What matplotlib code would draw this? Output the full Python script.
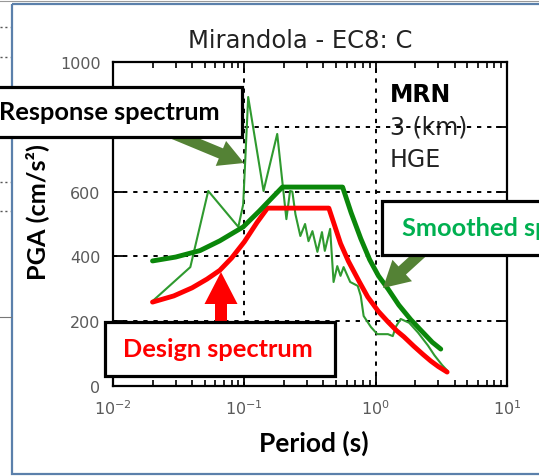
import numpy as np
import matplotlib
matplotlib.use("Agg")
import matplotlib.pyplot as plt
from matplotlib.patches import Rectangle, FancyArrow

# 数据
design_T = [0.02, 0.029, 0.04, 0.052, 0.065, 0.08, 0.1, 0.125, 0.15, 0.44, 0.54, 0.62,
            0.75, 0.87, 1.05, 1.24, 1.45, 1.64, 1.95, 2.3, 2.63, 3.0, 3.5]
design_pga = [259, 278, 303, 330, 357, 395, 445, 505, 549, 549, 440, 385,
              322, 275, 230, 198, 170, 152, 123, 97, 77, 60, 43]

smooth_T = [0.02, 0.03, 0.046, 0.065, 0.098, 0.13, 0.16, 0.195, 0.56, 0.65, 0.77, 0.9,
            1.05, 1.24, 1.5, 1.85, 2.21, 2.7, 3.13]
smooth_pga = [386, 398, 418, 448, 491, 540, 578, 614, 614, 535, 455, 390,
              340, 300, 250, 205, 172, 135, 114]

resp_T = [0.02, 0.0388, 0.0531, 0.090, 0.098, 0.107, 0.140, 0.178, 0.209, 0.223, 0.232,
          0.245, 0.267, 0.29, 0.308, 0.33, 0.36, 0.39, 0.41, 0.45, 0.478, 0.51, 0.54,
          0.57, 0.64, 0.73, 0.77, 0.81, 0.92, 1.03, 1.24, 1.35, 1.42, 1.55, 1.8, 2.1,
          2.5, 2.8, 3.2, 3.5]
resp_pga = [262, 367, 602, 491, 560, 892, 602, 778, 515, 602, 600,
            530, 463, 500, 447, 478, 414, 475, 417, 485, 321, 370, 340,
            367, 321, 309, 278, 216, 182, 160, 160, 154, 182, 207, 195, 165,
            125, 95, 65, 48]

y_ticks = [0, 200, 400, 600, 800, 1000]
y_labels = ['0', '200', '400', '600', '', '1000']  # 800 被标注框挡住
title = 'Mirandola - EC8: C'
station = ['MRN', '3 (km)', 'HGE']

W, H = 539, 477
fig = plt.figure(figsize=(W / 100, H / 100), dpi=100)
fig.patch.set_facecolor('white')

# 主坐标轴
ax = fig.add_axes([113 / W, 1 - 387 / H, (507 - 113) / W, (387 - 63) / H])
ax.set_xscale('log')
ax.set_xlim(0.01, 10)
ax.set_ylim(0, 1000)
ax.set_yticks(y_ticks)
ax.set_yticklabels(y_labels)
ax.plot(resp_T, resp_pga, color='#2f9a2f', lw=1.5, zorder=2)
ax.plot(design_T, design_pga, color='#ff0000', lw=3.5, zorder=3, solid_capstyle='round')
ax.plot(smooth_T, smooth_pga, color='#0a870a', lw=3.5, zorder=4, solid_capstyle='round')

ax.grid(True, which='major', color='black', linestyle=(0, (2.2, 3.0)), lw=1.4)
ax.tick_params(which='both', direction='in', top=True, right=True,
               labelsize=11.5, labelcolor='#5a5a5a', color='black')
ax.tick_params(which='major', length=8, width=1.3, pad=9)
ax.tick_params(which='minor', length=4.5, width=1.2)
for s in ax.spines.values():
    s.set_linewidth(1.6)

ax.text(0.703, 0.9, station[0], transform=ax.transAxes, fontsize=17,
        fontweight='bold', va='center', zorder=1)
ax.text(0.703, 0.8, station[1], transform=ax.transAxes, fontsize=17,
        color='#222222', va='center', zorder=1)
ax.text(0.703, 0.7, station[2], transform=ax.transAxes, fontsize=17,
        color='#222222', va='center', zorder=1)

fig.text(300 / W, 1 - 41 / H, title, fontsize=17.5, color='#222222',
         ha='center', va='center')
fig.text(37 / W, 1 - 212 / H, 'PGA (cm/s²)', rotation=90, fontsize=18.2,
         fontweight='bold', family=['Lato', 'DejaVu Sans'], ha='center', va='center')
fig.text(314 / W, 1 - 443 / H, 'Period (s)', fontsize=19, fontweight='bold',
         family=['Lato', 'DejaVu Sans'], ha='center', va='center')

# 覆盖层: 标注框和箭头 (像素坐标)
ov = fig.add_axes([0, 0, 1, 1], facecolor='none')
ov.set_xlim(0, W)
ov.set_ylim(H, 0)
ov.axis('off')

# 截图边框和残留
ov.add_patch(Rectangle((12, 5), 540, 470, fill=False, ec='#5b80ab', lw=1.6))
ov.plot([0, 539], [1.5, 1.5], color='#999999', lw=0.8)
ov.plot([0, 11], [318, 318], color='#777777', lw=0.8)
for yy in [28, 58, 183, 212]:
    ov.plot([0, 10], [yy, yy], color='#555555', lw=1, linestyle=(0, (1.5, 2)))

olive = '#548235'
ov.add_patch(FancyArrow(174, 135, 70, 29, width=11, head_width=27, head_length=25,
                        length_includes_head=True, color=olive, lw=0, zorder=5))
ov.add_patch(FancyArrow(428, 248, -45, 41, width=11, head_width=29, head_length=26,
                        length_includes_head=True, color=olive, lw=0, zorder=5))
ov.add_patch(FancyArrow(221, 326, 0, -53, width=12, head_width=33, head_length=32,
                        length_includes_head=True, color='#ff0000', lw=0, zorder=5))

boxes = [((-10, 88), 252, 50, 'Response spectrum', 'black', -1, 113, 'left'),
         ((105, 323), 230, 54, 'Design spectrum', '#ff0000', 218, 350, 'center'),
         ((382, 202), 170, 54, 'Smoothed spectrum', '#00b050', 402, 229, 'left')]
for (xy, w, h, txt, col, tx, ty, ha) in boxes:
    ov.add_patch(Rectangle(xy, w, h, fc='white', ec='black', lw=2.3, zorder=6))
    ov.text(tx, ty, txt, color=col, fontsize=18.3, fontweight='bold',
            family=['Lato', 'DejaVu Sans'], ha=ha, va='center', zorder=7)

fig.savefig('out.png', dpi=100)
